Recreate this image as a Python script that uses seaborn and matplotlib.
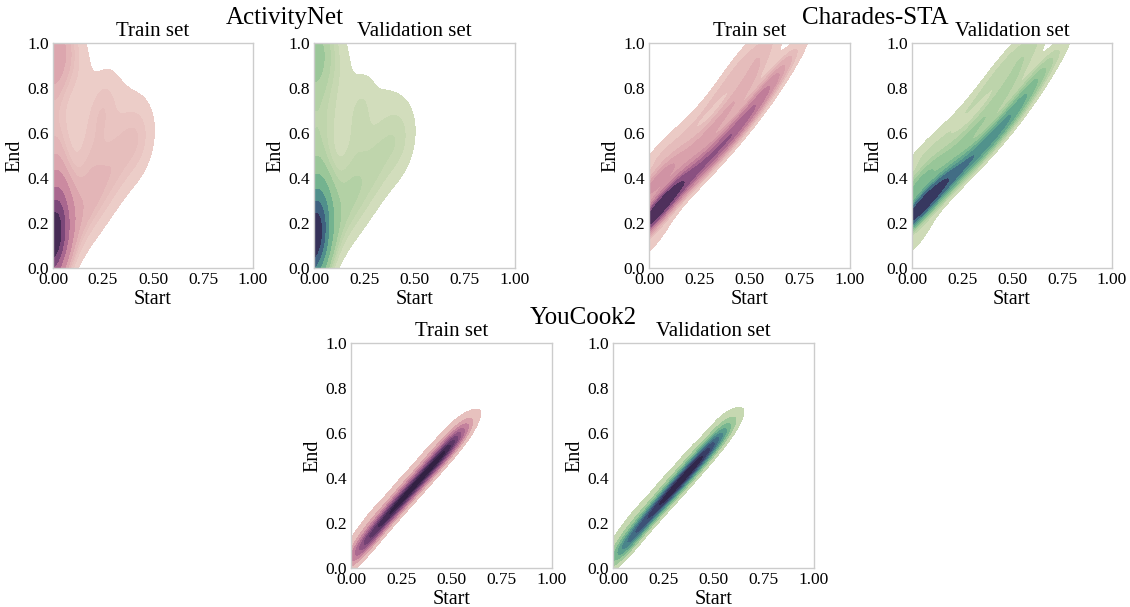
import matplotlib
matplotlib.use("Agg")
import matplotlib.pyplot as plt
import seaborn as sns
import numpy as np

sns.set_theme(style="white")
plt.rcParams['font.family'] = ['Liberation Serif', 'DejaVu Serif']
plt.rcParams['text.color'] = 'black'
plt.rcParams['axes.labelcolor'] = 'black'
plt.rcParams['xtick.color'] = 'black'
plt.rcParams['ytick.color'] = 'black'

# ---------------- data (normalised start / end, weights) ----------------
an_train_start = [0.00, 0.00, 0.00, 0.00, 0.00, 0.00, 0.00, 0.00, 0.00, 0.00,
                  0.08, 0.16, 0.24, 0.32, 0.40, 0.47,
                  0.10, 0.20, 0.30, 0.38, 0.25, 0.18, 0.15, 0.08, 0.34, 0.42,
                  0.08, 0.13, 0.08]
an_train_end = [0.04, 0.12, 0.20, 0.28, 0.38, 0.50, 0.62, 0.75, 0.88, 0.98,
                0.15, 0.25, 0.33, 0.42, 0.50, 0.57,
                0.35, 0.45, 0.52, 0.62, 0.72, 0.58, 0.86, 0.96, 0.74, 0.63,
                0.88, 0.70, 0.55]
an_train_w = [5, 8, 6, 2.5, 1.5, 1.2, 0.8, 0.7, 1.2, 3,
              2, 1.6, 1.3, 1, 0.8, 0.7,
              1, 1, 0.8, 0.6, 1.6, 0.6, 0.6, 1.2, 0.5, 0.6,
              0.5, 0.3, 0.3]

an_val_start = [0.00, 0.00, 0.00, 0.00, 0.00, 0.00, 0.00, 0.00, 0.00, 0.00,
                0.08, 0.16, 0.24, 0.32, 0.40, 0.47,
                0.10, 0.20, 0.30, 0.38, 0.23, 0.10, 0.15, 0.08, 0.34, 0.42,
                0.07, 0.08]
an_val_end = [0.04, 0.12, 0.20, 0.28, 0.38, 0.50, 0.62, 0.75, 0.88, 0.98,
              0.15, 0.25, 0.33, 0.42, 0.50, 0.57,
              0.35, 0.45, 0.52, 0.62, 0.70, 0.62, 0.86, 0.96, 0.74, 0.63,
              0.76, 0.88]
an_val_w = [6, 9, 7, 3, 1.5, 1.2, 1.0, 0.9, 1.2, 3,
            2, 1.6, 1.3, 1, 0.8, 0.7,
            1.2, 1.2, 0.9, 0.6, 1.6, 0.8, 0.6, 1.2, 0.5, 0.6,
            0.5, 0.4]

ch_train_start = [0.00, 0.05, 0.10, 0.18, 0.26, 0.34, 0.42, 0.50, 0.56, 0.62, 0.68,
                  0.00, 0.08, 0.18, 0.28, 0.38, 0.46, 0.53, 0.57,
                  0.00, 0.10, 0.22, 0.33, 0.42, 0.48, 0.02]
ch_train_end = [0.22, 0.26, 0.32, 0.38, 0.45, 0.52, 0.60, 0.68, 0.76, 0.84, 0.92,
                0.35, 0.42, 0.50, 0.58, 0.68, 0.78, 0.88, 0.98,
                0.46, 0.54, 0.64, 0.75, 0.86, 0.96, 0.12]
ch_train_w = [6, 5, 3.5, 3, 3, 3, 3, 2.5, 2, 1.5, 1,
              3, 1.5, 1.5, 1.5, 1.4, 1.2, 1.2, 1.5,
              1, 0.8, 0.8, 0.8, 0.8, 0.8, 1]

ch_val_start = [0.00, 0.06, 0.12, 0.20, 0.27, 0.35, 0.43, 0.50, 0.56, 0.62, 0.68,
                0.00, 0.08, 0.18, 0.28, 0.38, 0.46, 0.53, 0.58,
                0.00, 0.10, 0.22, 0.33, 0.42, 0.50, 0.02]
ch_val_end = [0.24, 0.28, 0.34, 0.40, 0.46, 0.53, 0.60, 0.68, 0.76, 0.84, 0.92,
              0.35, 0.42, 0.50, 0.58, 0.68, 0.78, 0.88, 0.98,
              0.46, 0.54, 0.64, 0.75, 0.86, 0.96, 0.12]
ch_val_w = [7, 6, 4, 3.5, 3, 3, 3, 2.5, 2, 1.5, 1,
            3, 1.5, 1.5, 1.5, 1.4, 1.2, 1.2, 1.5,
            1, 0.8, 0.8, 0.8, 0.8, 0.8, 1]

yc_train_start = [0.02, 0.06, 0.10, 0.15, 0.20, 0.25, 0.30, 0.35, 0.40, 0.45, 0.50, 0.54,
                  0.03, 0.12, 0.25, 0.38, 0.50, 0.00]
yc_train_end = [0.05, 0.10, 0.14, 0.20, 0.25, 0.30, 0.35, 0.40, 0.45, 0.50, 0.55, 0.59,
                0.13, 0.24, 0.37, 0.50, 0.61, 1.00]
yc_train_w = [0.5, 0.8, 1, 1.1, 1.2, 1.2, 1.2, 1.2, 1.2, 1.2, 1.1, 0.9,
              0.3, 0.3, 0.3, 0.3, 0.3, 0.12]

yc_val_start = [0.02, 0.06, 0.10, 0.15, 0.20, 0.25, 0.30, 0.35, 0.40, 0.45, 0.50, 0.55,
                0.03, 0.12, 0.25, 0.38, 0.52, 0.00]
yc_val_end = [0.05, 0.10, 0.14, 0.20, 0.25, 0.30, 0.35, 0.40, 0.45, 0.50, 0.55, 0.60,
              0.13, 0.24, 0.37, 0.50, 0.63, 1.00]
yc_val_w = [0.5, 0.8, 1, 1.1, 1.2, 1.3, 1.4, 1.4, 1.4, 1.3, 1.1, 0.9,
            0.3, 0.3, 0.3, 0.3, 0.3, 0.12]

ticks = [0.0, 0.25, 0.5, 0.75, 1.0]
xtick_labels = ["0.00", "0.25", "0.50", "0.75", "1.00"]
yticks = [0.0, 0.2, 0.4, 0.6, 0.8, 1.0]
ytick_labels = ["0.0", "0.2", "0.4", "0.6", "0.8", "1.0"]

pink = sns.cubehelix_palette(as_cmap=True)
green = sns.cubehelix_palette(start=.5, rot=-.75, as_cmap=True)

W, H = 1130, 607
fig = plt.figure(figsize=(W / 100, H / 100), dpi=100)


def make_ax(left, right, top, bottom):
    return fig.add_axes([left / W, 1 - bottom / H, (right - left) / W, (bottom - top) / H])


panels = [
    (53, 253, 43, 268, an_train_start, an_train_end, an_train_w, pink, "Train set", 0.6),
    (314, 515, 43, 268, an_val_start, an_val_end, an_val_w, green, "Validation set", 0.6),
    (649, 850, 43, 268, ch_train_start, ch_train_end, ch_train_w, pink, "Train set", 0.7),
    (912, 1112, 43, 268, ch_val_start, ch_val_end, ch_val_w, green, "Validation set", 0.7),
    (351, 552, 343, 568, yc_train_start, yc_train_end, yc_train_w, pink, "Train set", 0.55),
    (613, 814, 343, 568, yc_val_start, yc_val_end, yc_val_w, green, "Validation set", 0.55),
]

for (l, r, t, b, xs, ys, ws, cmap, title, bw) in panels:
    ax = make_ax(l, r, t, b)
    sns.kdeplot(x=np.array(xs), y=np.array(ys), weights=np.array(ws), fill=True,
                cmap=cmap, bw_adjust=bw, ax=ax)
    ax.set_xlim(0, 1)
    ax.set_ylim(0, 1)
    ax.set_xticks(ticks)
    ax.set_xticklabels(xtick_labels)
    ax.set_yticks(yticks)
    ax.set_yticklabels(ytick_labels)
    ax.tick_params(length=0, labelsize=12.5, pad=3)
    ax.set_xlabel("Start", fontsize=14.5, labelpad=1)
    ax.set_ylabel("End", fontsize=14.5, labelpad=2)
    ax.set_title(title, fontsize=15, pad=5)
    for s in ax.spines.values():
        s.set_color("#cccccc")
        s.set_linewidth(1.0)

fig.text(285 / W, 1 - 18 / H, "ActivityNet", ha="center", va="center", fontsize=18)
fig.text(875 / W, 1 - 18 / H, "Charades-STA", ha="center", va="center", fontsize=18)
fig.text(583 / W, 1 - 318 / H, "YouCook2", ha="center", va="center", fontsize=18)

fig.savefig("out.png", dpi=100)
